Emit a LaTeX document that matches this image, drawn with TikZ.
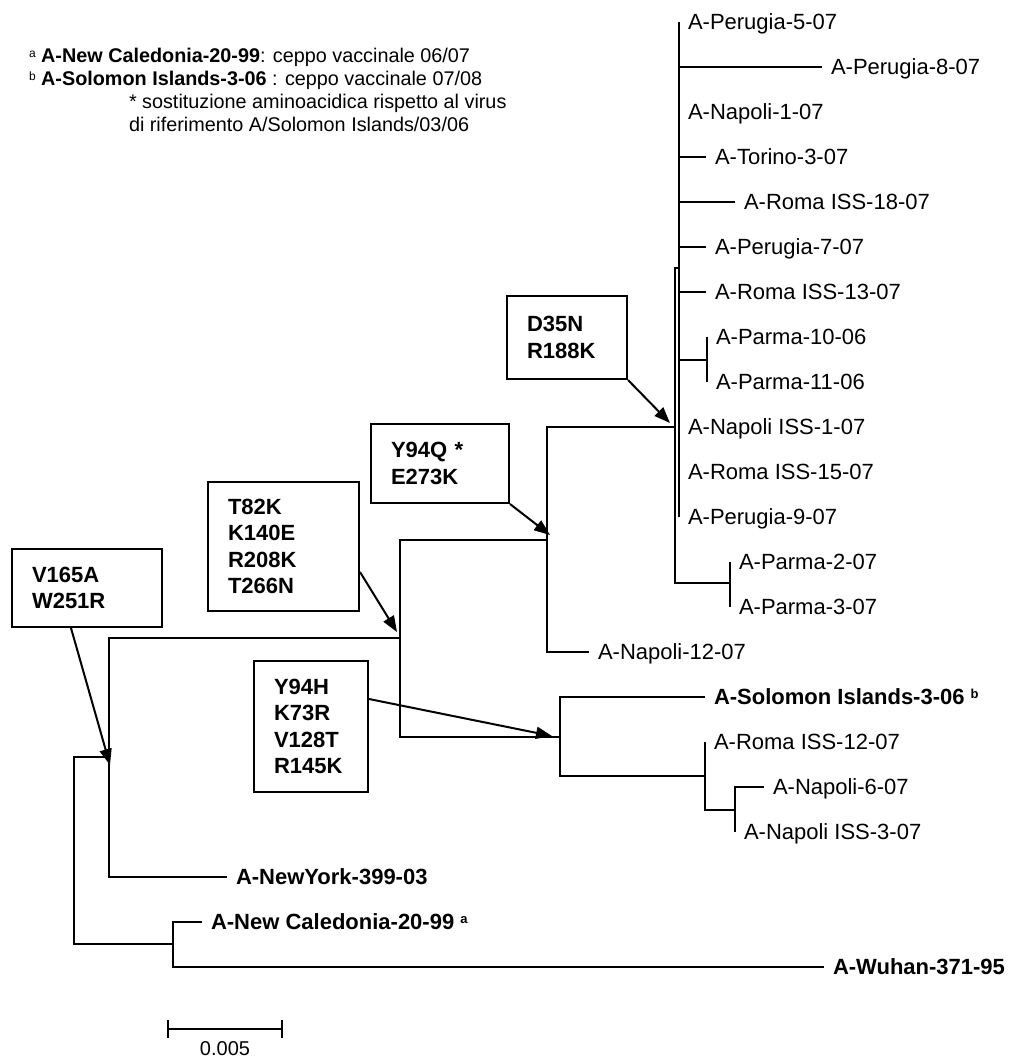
\documentclass[tikz,border=0pt]{standalone}
\usepackage{fontspec}
\setmainfont{Liberation Sans}
\usetikzlibrary{arrows.meta}
\begin{document}
\begin{tikzpicture}[x=1pt,y=-1pt,line width=2pt,
  leaf/.style={anchor=west,inner xsep=8pt,inner ysep=0pt,text height=15.8pt,text depth=0pt,font=\fontsize{22}{26}\selectfont},
  bleaf/.style={leaf,font=\fontsize{22}{26}\selectfont\bfseries},
  mutbox/.style={draw,anchor=north west,align=left,inner xsep=20pt,inner ysep=0pt,font=\fontsize{22}{26.5}\selectfont\bfseries},
  arr/.style={-{Triangle[length=16pt,width=12pt]}},
  legendline/.style={anchor=west,inner sep=0pt,text height=14.2pt,text depth=0pt,font=\fontsize{19.8}{23}\selectfont}]
\useasboundingbox (0,0) rectangle (1011,1061);

% legend
\node[legendline] (lg1) at (28,55) {\raisebox{5pt}{\fontsize{12}{12}\selectfont a} \textbf{A-New Caledonia-20-99}: ceppo vaccinale 06/07};
\node[legendline] (lg2) at (28,78) {\raisebox{5pt}{\fontsize{12}{12}\selectfont b} \textbf{A-Solomon Islands-3-06} : ceppo vaccinale 07/08};
\node[legendline] (lg3) at (128,101) {* sostituzione aminoacidica rispetto al virus};
\node[legendline] (lg4) at (128,124) {di riferimento A/Solomon Islands/03/06};

% internal nodes
\coordinate (R) at (74,850);
\coordinate (N1) at (109,757);
\coordinate (NC) at (173,944);
\coordinate (N2) at (400,638);
\coordinate (N3) at (547,540);
\coordinate (N4) at (560,737);
\coordinate (N5) at (675,427);
\coordinate (N6) at (679,268);
\coordinate (N7) at (730,583);
\coordinate (NP) at (707,359.5);
\coordinate (N8) at (705,776);
\coordinate (N9) at (735,810);

% leaves
\node[leaf] (p5) at (679,22) {A-Perugia-5-07};
\node[leaf] (p8) at (822,67) {A-Perugia-8-07};
\node[leaf] (n1) at (679,112) {A-Napoli-1-07};
\node[leaf] (t3) at (706,157) {A-Torino-3-07};
\node[leaf] (r18) at (735,202) {A-Roma ISS-18-07};
\node[leaf] (p7) at (706,247) {A-Perugia-7-07};
\node[leaf] (r13) at (706,292) {A-Roma ISS-13-07};
\node[leaf] (pa10) at (707,337) {A-Parma-10-06};
\node[leaf] (pa11) at (707,382) {A-Parma-11-06};
\node[leaf] (ni1) at (679,427) {A-Napoli ISS-1-07};
\node[leaf] (r15) at (679,472) {A-Roma ISS-15-07};
\node[leaf] (p9) at (679,517) {A-Perugia-9-07};
\node[leaf] (pa2) at (730,562) {A-Parma-2-07};
\node[leaf] (pa3) at (730,607) {A-Parma-3-07};
\node[leaf] (n12) at (589,652) {A-Napoli-12-07};
\node[bleaf] (sol) at (705,697) {A-Solomon Islands-3-06 \raisebox{6pt}{\fontsize{13}{13}\selectfont b}};
\node[leaf] (r12) at (705,742) {A-Roma ISS-12-07};
\node[leaf] (n6) at (764,787) {A-Napoli-6-07};
\node[leaf] (ni3) at (735,832) {A-Napoli ISS-3-07};
\node[bleaf] (ny) at (227,877) {A-NewYork-399-03};
\node[bleaf] (nc) at (202,922) {A-New Caledonia-20-99 \raisebox{6pt}{\fontsize{13}{13}\selectfont a}};
\node[bleaf] (wu) at (824,967) {A-Wuhan-371-95};

% branches
\draw (R) |- (N1);
\draw (R) |- (NC);
\draw (N1) |- (N2);
\draw (N1) |- (ny.west);
\draw (NC) |- (nc.west);
\draw (NC) |- (wu.west);
\draw (N2) |- (N3);
\draw (N2) |- (N4);
\draw (N3) |- (N5);
\draw (N3) |- (n12.west);
\draw (N5) |- (N6);
\draw (N5) |- (N7);
\foreach \l in {p5,p8,n1,t3,r18,p7,r13,ni1,r15,p9} \draw (N6) |- (\l.west);
\draw (N6) |- (NP);
\draw (NP) |- (pa10.west);
\draw (NP) |- (pa11.west);
\draw (N7) |- (pa2.west);
\draw (N7) |- (pa3.west);
\draw (N4) |- (sol.west);
\draw (N4) |- (N8);
\draw (N8) |- (r12.west);
\draw (N8) |- (N9);
\draw (N9) |- (n6.west);
\draw (N9) |- (ni3.west);

% mutation boxes
\node[mutbox,text width=110pt,minimum height=78pt] (bV) at (11,548) {V165A\\W251R};
\node[mutbox,text width=111pt,minimum height=129pt] (bT) at (207,481) {T82K\\K140E\\R208K\\T266N};
\node[mutbox,text width=74pt,minimum height=131pt] (bH) at (253,660) {Y94H\\K73R\\V128T\\R145K};
\node[mutbox,text width=98pt,minimum height=79pt] (bQ) at (370,423) {Y94Q *\\E273K};
\node[mutbox,text width=80pt,minimum height=83pt] (bD) at (506,295) {D35N\\R188K};

% arrow tips
\coordinate (tV) at (110,765);
\coordinate (tT) at (397,632);
\coordinate (tH) at (552,736);
\coordinate (tQ) at (550,535);
\coordinate (tD) at (670,423);
\draw[arr] ([xshift=60pt]bV.south west) -- (tV);
\draw[arr] ([yshift=-91pt]bT.north east) -- (tT);
\draw[arr] ([yshift=-39pt]bH.north east) -- (tH);
\draw[arr] (bQ.south east) -- (tQ);
\draw[arr] (bD.south east) -- (tD);

% scale bar
\coordinate (sL) at (168,1029);
\coordinate (sR) at (282,1029);
\draw (sL) -- (sR);
\draw ([yshift=9pt]sL) -- ([yshift=-9pt]sL);
\draw ([yshift=9pt]sR) -- ([yshift=-9pt]sR);
\node[font=\fontsize{20}{20}\selectfont,inner sep=0pt] (sc) at (225,1049) {0.005};
\end{tikzpicture}
\end{document}
